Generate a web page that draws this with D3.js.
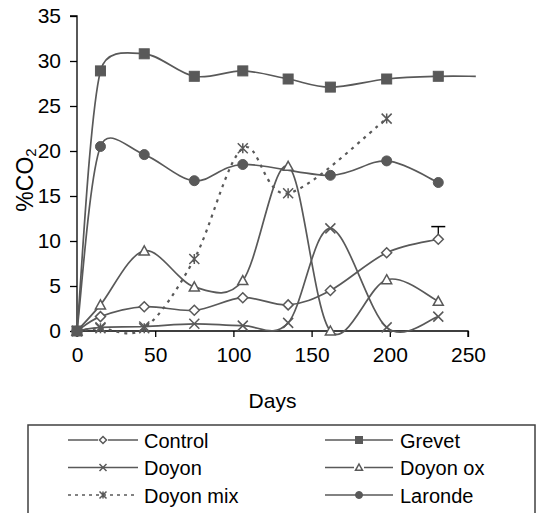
<!DOCTYPE html>
<html>
<head>
<meta charset="utf-8">
<script src="https://cdn.jsdelivr.net/npm/d3@7"></script>
<style>
  html, body { margin: 0; padding: 0; background: #fff; }
  svg { display: block; font-family: "Liberation Sans", Arial, sans-serif; }
</style>
</head>
<body>
<svg id="chart" width="540" height="513"></svg>
<script>
// ---- data ----
const controlDays = [0, 15, 43, 75, 106, 135, 162, 198, 231];
const controlVals = [0, 1.6, 2.7, 2.3, 3.7, 2.9, 4.5, 8.7, 10.2];
const controlErrPlus = [0, 0, 0, 0, 0, 0, 0, 0, 1.4];

const grevetDays = [0, 15, 43, 75, 106, 135, 162, 198, 231, 255];
const grevetVals = [0, 28.9, 30.8, 28.3, 28.9, 28.0, 27.1, 28.0, 28.3, 28.3];

const doyonDays = [0, 15, 43, 75, 106, 135, 162, 198, 231];
const doyonVals = [0, 0.4, 0.5, 0.8, 0.6, 0.9, 11.4, 0.4, 1.6];

const doyonOxDays = [0, 15, 43, 75, 106, 135, 162, 198, 231];
const doyonOxVals = [0, 2.9, 8.9, 4.9, 5.6, 18.3, 0, 5.7, 3.3];

const doyonMixDays = [0, 15, 43, 75, 106, 135, 198];
const doyonMixVals = [0, 0.3, 0.3, 8.0, 20.3, 15.3, 23.6];

const larondeDays = [0, 15, 43, 75, 106, 162, 198, 231];
const larondeVals = [0, 20.5, 19.6, 16.7, 18.5, 17.3, 18.9, 16.5];

const xTicks = [0, 50, 100, 150, 200, 250];
const yTicks = [0, 5, 10, 15, 20, 25, 30, 35];
const seriesNames = ["Control", "Grevet", "Doyon", "Doyon ox", "Doyon mix", "Laronde"];

// ---- layout ----
const svg = d3.select("#chart");
const plot = { left: 77, right: 468, top: 16, bottom: 331 };
const x = d3.scaleLinear().domain([0, 250]).range([plot.left, plot.right]);
const y = d3.scaleLinear().domain([0, 35]).range([plot.bottom, plot.top]);
const col = "#595959";

const series = [
  { name: seriesNames[0], days: controlDays, vals: controlVals, marker: "diamond", dash: null },
  { name: seriesNames[1], days: grevetDays, vals: grevetVals, marker: "square", dash: null },
  { name: seriesNames[2], days: doyonDays, vals: doyonVals, marker: "x", dash: null },
  { name: seriesNames[3], days: doyonOxDays, vals: doyonOxVals, marker: "triangle", dash: null },
  { name: seriesNames[4], days: doyonMixDays, vals: doyonMixVals, marker: "asterisk", dash: "3,5" },
  { name: seriesNames[5], days: larondeDays, vals: larondeVals, marker: "circle", dash: null }
];

// Spreadsheet-style smoothed line (Bezier arms = 1/6 of neighbour chord, capped at half segment)
function smoothPath(pts) {
  const p = pts.map(d => [x(d[0]), y(d[1])]);
  const path = d3.path();
  path.moveTo(p[0][0], p[0][1]);
  const dist = (a, b) => Math.hypot(a[0] - b[0], a[1] - b[1]);
  for (let i = 0; i < p.length - 1; i++) {
    const p0 = p[Math.max(i - 1, 0)], p1 = p[i], p2 = p[i + 1], p3 = p[Math.min(i + 2, p.length - 1)];
    const d02 = dist(p0, p2), d12 = dist(p1, p2), d13 = dist(p1, p3);
    let f1 = 1 / 6, f2 = 1 / 6;
    if (d02 / 6 >= d12 / 2 && d02 > 0) f1 = (d12 / 2) / d02;
    if (d13 / 6 >= d12 / 2 && d13 > 0) f2 = (d12 / 2) / d13;
    const c1 = [p1[0] + f1 * (p2[0] - p0[0]), p1[1] + f1 * (p2[1] - p0[1])];
    const c2 = [p2[0] - f2 * (p3[0] - p1[0]), p2[1] - f2 * (p3[1] - p1[1])];
    path.bezierCurveTo(c1[0], c1[1], c2[0], c2[1], p2[0], p2[1]);
  }
  return path.toString();
}

function drawMarker(g, type, cx, cy, s) {
  const h = s / 2;
  if (type === "diamond") {
    g.append("path").attr("d", `M${cx},${cy - h}L${cx + h},${cy}L${cx},${cy + h}L${cx - h},${cy}Z`)
      .attr("fill", "#fff").attr("stroke", col).attr("stroke-width", 1.5);
  } else if (type === "square") {
    g.append("rect").attr("x", cx - h).attr("y", cy - h).attr("width", s).attr("height", s)
      .attr("fill", col).attr("stroke", col).attr("stroke-width", 1);
  } else if (type === "circle") {
    g.append("circle").attr("cx", cx).attr("cy", cy).attr("r", h)
      .attr("fill", col).attr("stroke", col).attr("stroke-width", 1);
  } else if (type === "triangle") {
    g.append("path").attr("d", `M${cx},${cy - h}L${cx + h},${cy + h * 0.8}L${cx - h},${cy + h * 0.8}Z`)
      .attr("fill", "#fff").attr("stroke", col).attr("stroke-width", 1.5);
  } else if (type === "x") {
    g.append("path").attr("d", `M${cx - h},${cy - h}L${cx + h},${cy + h}M${cx - h},${cy + h}L${cx + h},${cy - h}`)
      .attr("fill", "none").attr("stroke", col).attr("stroke-width", 1.5);
  } else if (type === "asterisk") {
    g.append("path").attr("d",
      `M${cx - h},${cy - h}L${cx + h},${cy + h}M${cx - h},${cy + h}L${cx + h},${cy - h}M${cx},${cy - h}L${cx},${cy + h}`)
      .attr("fill", "none").attr("stroke", col).attr("stroke-width", 1.5);
  }
}

// ---- axes ----
const yAxis = d3.axisLeft(y).tickValues(yTicks).tickSize(7).tickPadding(9);
const gy = svg.append("g").attr("transform", `translate(${plot.left},0)`).call(yAxis);
const xAxis = d3.axisBottom(x).tickValues(xTicks).tickSize(6).tickPadding(10);
const gx = svg.append("g").attr("transform", `translate(0,${plot.bottom})`).call(xAxis);
[gx, gy].forEach(g => {
  g.select(".domain").attr("stroke", "#000").attr("stroke-width", 1.3);
  g.selectAll(".tick line").attr("stroke", "#000").attr("stroke-width", 1.3);
  g.selectAll(".tick text").attr("fill", "#000").attr("font-size", 21)
    .attr("font-family", "Liberation Sans, Arial, sans-serif");
});
gy.select(".domain").attr("d", `M-7,${plot.top}H0V${plot.bottom}`);
gx.select(".domain").attr("d", `M${plot.left},6V0H${plot.right}V6`);

svg.append("text").attr("x", (plot.left + plot.right) / 2).attr("y", 408)
  .attr("text-anchor", "middle").attr("font-size", 21).attr("fill", "#000").text("Days");

const yl = svg.append("text").attr("transform", "translate(33,180) rotate(-90)")
  .attr("text-anchor", "middle").attr("font-size", 23).attr("fill", "#000");
yl.append("tspan").text("%CO");
yl.append("tspan").attr("font-size", 15).attr("dy", 3).text("2");

// ---- series ----
const gs = svg.append("g");
series.forEach(s => {
  const pts = s.days.map((d, i) => [d, s.vals[i]]);
  gs.append("path").attr("d", smoothPath(pts)).attr("fill", "none")
    .attr("stroke", col).attr("stroke-width", s.dash ? 2.2 : 1.7)
    .attr("stroke-dasharray", s.dash);
});
// error bar
controlDays.forEach((d, i) => {
  if (controlErrPlus[i] > 0) {
    const cx = x(d), y0 = y(controlVals[i]), y1 = y(controlVals[i] + controlErrPlus[i]);
    gs.append("line").attr("x1", cx).attr("x2", cx).attr("y1", y0).attr("y2", y1)
      .attr("stroke", "#000").attr("stroke-width", 1.3);
    gs.append("line").attr("x1", cx - 7).attr("x2", cx + 7).attr("y1", y1).attr("y2", y1)
      .attr("stroke", "#000").attr("stroke-width", 1.5);
  }
});
series.forEach(s => {
  const gm = gs.append("g");
  s.days.forEach((d, i) => {
    if (d > 250) return;
    drawMarker(gm, s.marker, x(d), y(s.vals[i]), 10);
  });
});

// ---- legend ----
const lg = svg.append("g");
lg.append("rect").attr("x", 28).attr("y", 425).attr("width", 507).attr("height", 100)
  .attr("fill", "#fff").attr("stroke", "#404040").attr("stroke-width", 1.5);
const cols = [{ x1: 68, x2: 138, tx: 144 }, { x1: 325, x2: 393, tx: 400 }];
series.forEach((s, i) => {
  const c = cols[i % 2];
  const row = Math.floor(i / 2);
  const cy = 440 + row * 27.5;
  lg.append("line").attr("x1", c.x1).attr("x2", c.x2).attr("y1", cy).attr("y2", cy)
    .attr("stroke", col).attr("stroke-width", 1.5)
    .attr("stroke-dasharray", s.dash ? "3,4" : null);
  const m = lg.append("g");
  if (s.marker === "diamond" || s.marker === "triangle") {
    m.append("rect").attr("x", (c.x1 + c.x2) / 2 - 5).attr("y", cy - 5).attr("width", 10).attr("height", 10).attr("fill", "#fff");
  }
  drawMarker(m, s.marker, (c.x1 + c.x2) / 2, cy, 7);
  lg.append("text").attr("x", c.tx).attr("y", cy + 7.5).attr("font-size", 20).attr("fill", "#000").text(s.name);
});
</script>
</body>
</html>
